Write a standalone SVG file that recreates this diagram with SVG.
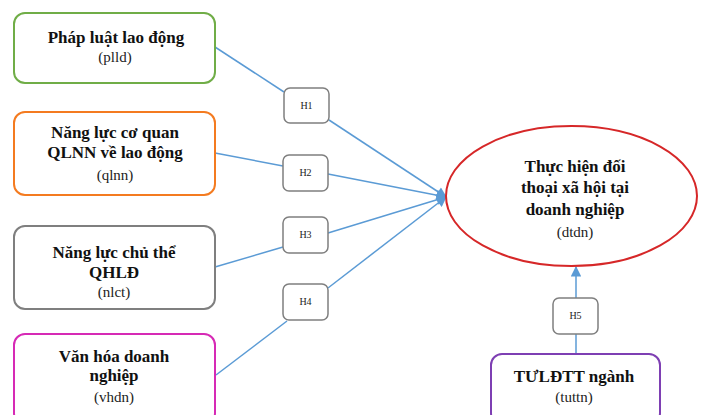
<svg xmlns="http://www.w3.org/2000/svg" width="704" height="415" viewBox="0 0 704 415">
<style>
.box{fill:#fff;stroke-width:2}
.hb{fill:#fff;stroke:#7f7f7f;stroke-width:1.5}
.t{font-family:'Liberation Serif','Times New Roman',serif;font-weight:bold;font-size:17px;fill:#111;text-anchor:middle}
.c{font-family:'Liberation Serif','Times New Roman',serif;font-size:15px;fill:#222;text-anchor:middle}
.h{font-family:'Liberation Serif','Times New Roman',serif;font-size:10px;fill:#222;text-anchor:middle}
.ln{stroke:#5b9bd5;stroke-width:1.5;fill:none}
</style>
<defs>
<marker id="arr" viewBox="0 0 10 10" refX="9" refY="5" markerWidth="7.5" markerHeight="7" orient="auto" markerUnits="strokeWidth">
<path d="M0,0 L10,5 L0,10 z" fill="#5b9bd5"/>
</marker>
</defs>
<rect width="704" height="415" fill="#fff"/>
<g id="connectors">
<line class="ln" x1="215" y1="47" x2="284" y2="92"/>
<line class="ln" x1="329" y1="120" x2="446" y2="197" marker-end="url(#arr)"/>
<line class="ln" x1="215" y1="153" x2="283" y2="166"/>
<line class="ln" x1="328" y1="174" x2="446" y2="197" marker-end="url(#arr)"/>
<line class="ln" x1="215" y1="267" x2="283" y2="247"/>
<line class="ln" x1="328" y1="233" x2="446" y2="197" marker-end="url(#arr)"/>
<line class="ln" x1="216" y1="375" x2="287" y2="321"/>
<line class="ln" x1="328" y1="288" x2="446" y2="197" marker-end="url(#arr)"/>
<line class="ln" x1="576" y1="354" x2="576" y2="334"/>
<line class="ln" x1="576" y1="298" x2="576" y2="267" marker-end="url(#arr)"/>
</g>
<g id="plld">
<rect class="box" x="14" y="13" width="201" height="70" rx="11" stroke="#70ad47"/>
<text class="t" x="116" y="43">Pháp luật lao động</text>
<text class="c" x="115" y="62">(plld)</text>
</g>
<g id="qlnn">
<rect class="box" x="14" y="112" width="201" height="83" rx="11" stroke="#f47b20"/>
<text class="t" x="115" y="138">Năng lực cơ quan</text>
<text class="t" x="115" y="158">QLNN về lao động</text>
<text class="c" x="115" y="180">(qlnn)</text>
</g>
<g id="nlct">
<rect class="box" x="14" y="226" width="201" height="83" rx="11" stroke="#7f7f7f"/>
<text class="t" x="114" y="258">Năng lực chủ thể</text>
<text class="t" x="114" y="278">QHLĐ</text>
<text class="c" x="114" y="297">(nlct)</text>
</g>
<g id="vhdn">
<rect class="box" x="14" y="334" width="201" height="90" rx="11" stroke="#d62ab5"/>
<text class="t" x="114" y="362">Văn hóa doanh</text>
<text class="t" x="114" y="381">nghiệp</text>
<text class="c" x="114" y="402">(vhdn)</text>
</g>
<g id="H1">
<rect class="hb" x="284" y="88" width="45" height="35" rx="6"/>
<text class="h" x="306.5" y="109">H1</text>
</g>
<g id="H2">
<rect class="hb" x="283" y="155" width="45" height="36" rx="6"/>
<text class="h" x="305.5" y="176">H2</text>
</g>
<g id="H3">
<rect class="hb" x="283" y="217" width="45" height="36" rx="6"/>
<text class="h" x="305.5" y="238">H3</text>
</g>
<g id="H4">
<rect class="hb" x="283" y="284" width="45" height="36" rx="6"/>
<text class="h" x="305.5" y="305">H4</text>
</g>
<g id="dtdn">
<ellipse cx="571.5" cy="196" rx="125.5" ry="70" fill="#fff" stroke="#d62728" stroke-width="2"/>
<text class="t" x="575" y="172">Thực hiện đối</text>
<text class="t" x="575" y="193">thoại xã hội tại</text>
<text class="t" x="575" y="215">doanh nghiệp</text>
<text class="c" x="575" y="237">(dtdn)</text>
</g>
<g id="H5">
<rect class="hb" x="553" y="298" width="45" height="36" rx="6"/>
<text class="h" x="575.5" y="319">H5</text>
</g>
<g id="tuttn">
<rect class="box" x="491" y="354" width="169" height="70" rx="11" stroke="#7e3fb3"/>
<text class="t" x="574" y="382">TƯLĐTT ngành</text>
<text class="c" x="574" y="402">(tuttn)</text>
</g>
</svg>
